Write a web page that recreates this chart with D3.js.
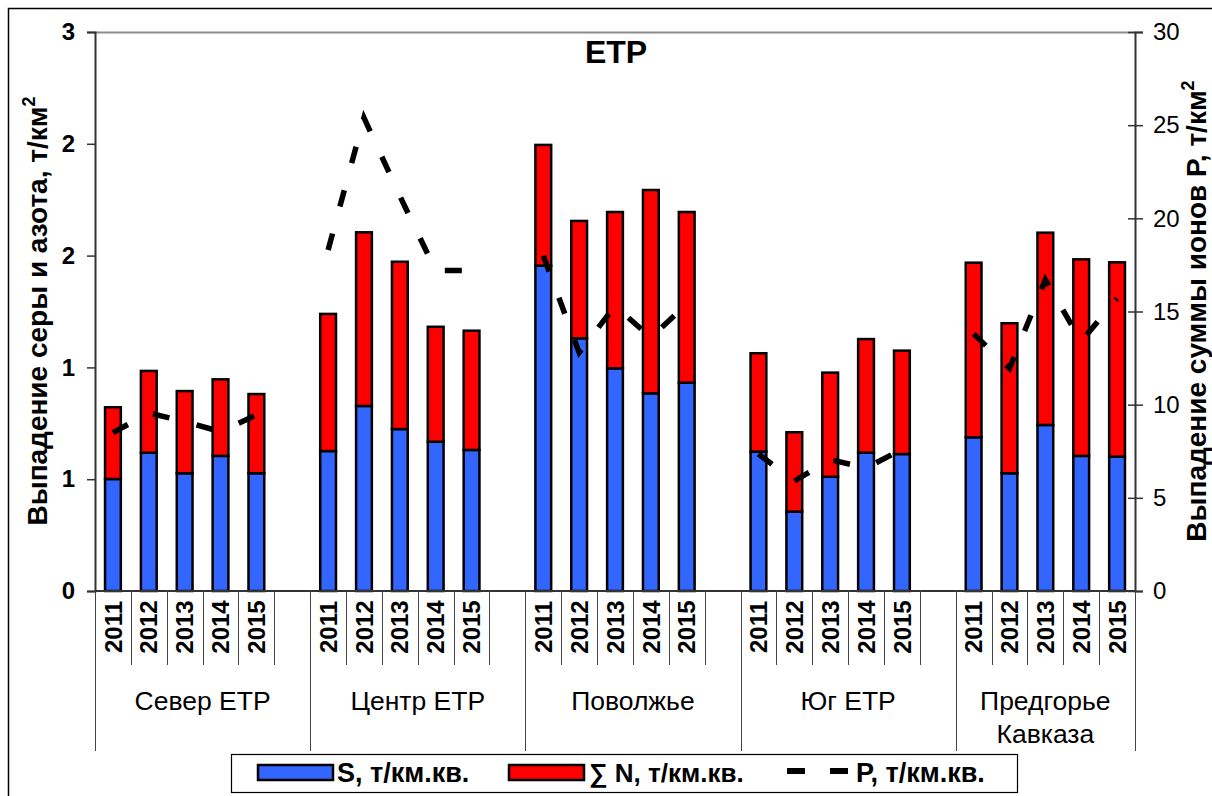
<!DOCTYPE html>
<html><head><meta charset="utf-8">
<script src="https://cdn.jsdelivr.net/npm/d3@7/dist/d3.min.js"></script>
<style>body{margin:0;background:#fff}svg{display:block}text{font-family:'Liberation Sans',Arial,sans-serif;fill:#000}</style>
</head><body><svg id="c" width="1212" height="796"></svg>
<script>
const groups = ["Север ЕТР", "Центр ЕТР", "Поволжье", "Юг ЕТР", "Предгорье\nКавказа"];
const years = ["2011", "2012", "2013", "2014", "2015"];
// S (sulfur) deposition, t/km2 – per group, per year
const sValues = [
  0.601, 0.742, 0.632, 0.725, 0.632,
  0.751, 0.993, 0.869, 0.801, 0.757,
  1.746, 1.356, 1.195, 1.061, 1.118,
  0.748, 0.426, 0.613, 0.742, 0.735,
  0.825, 0.632, 0.891, 0.725, 0.721
];
// Sum N deposition, t/km2
const nValues = [
  0.385, 0.439, 0.441, 0.411, 0.425,
  0.736, 0.932, 0.898, 0.617, 0.640,
  0.648, 0.630, 0.839, 1.091, 0.916,
  0.528, 0.426, 0.559, 0.610, 0.555,
  0.937, 0.805, 1.032, 1.055, 1.043
];
// P (sum of ions), t/km2 – right axis
const pValues = [
  8.5, 9.55, 9.1, 8.55, 9.45,
  18.3, 25.4, 21.2, 17.2, 17.2,
  18.0, 12.8, 15.3, 13.6, 15.4,
  7.35, 5.9, 7.05, 6.6, 7.6,
  13.8, 11.95, 16.7, 13.4, 15.7
];
const leftTicks = [0, 0.6, 1.2, 1.8, 2.4, 3];
const leftTickLabels = ["0", "1", "1", "2", "2", "3"];
const rightTicks = [0, 5, 10, 15, 20, 25, 30];
const seriesNames = ["S, т/км.кв.", "∑ N, т/км.кв.", "P, т/км.кв."];
const titleText = "ЕТР";
const leftTitle = "Выпадение серы и азота, т/км";
const rightTitle = "Выпадение суммы ионов Р, т/км";

const svg = d3.select("#c");
const X0 = 95, X1 = 1135, Y0 = 591, Y1 = 32;

// slots: 5 years per group + a blank slot between groups
const slots = [];
groups.forEach((g, gi) => {
  years.forEach((y, yi) => slots.push({id: gi + "-" + yi, g: gi, y: yi, idx: gi * 5 + yi}));
  if (gi < groups.length - 1) slots.push({id: gi + "-gap", g: gi, blank: true});
});
const x = d3.scaleBand().domain(slots.map(s => s.id)).range([X0, X1]).paddingInner(0).paddingOuter(0);
const yL = d3.scaleLinear().domain([0, 3]).range([Y0, Y1]);
const yR = d3.scaleLinear().domain([0, 30]).range([Y0, Y1]);

// outer chart border (left/top visible)
svg.append("rect").attr("x", 8.5).attr("y", 8.5).attr("width", 1220).attr("height", 800)
  .attr("fill", "none").attr("stroke", "#000").attr("stroke-width", 1.5);

// plot area top border
svg.append("line").attr("x1", X0).attr("x2", X1).attr("y1", Y1 + 0.5).attr("y2", Y1 + 0.5)
  .attr("stroke", "#8c8c8c").attr("stroke-width", 2);

// title
svg.append("text").attr("x", 616).attr("y", 63).attr("text-anchor", "middle")
  .attr("font-size", 32).attr("font-weight", "bold").text(titleText);

// bars
const dataRows = slots.filter(s => !s.blank).map(s => ({
  id: s.id, S: sValues[s.idx], N: nValues[s.idx], P: pValues[s.idx], g: s.g
}));
const bw = x.bandwidth() * 0.44;
const barG = svg.append("g");
dataRows.forEach(d => {
  const cx = x(d.id) + x.bandwidth() / 2;
  barG.append("rect").attr("x", cx - bw / 2).attr("width", bw)
    .attr("y", yL(d.S)).attr("height", yL(0) - yL(d.S))
    .attr("fill", "#3366ff").attr("stroke", "#000").attr("stroke-width", 2.5);
  barG.append("rect").attr("x", cx - bw / 2).attr("width", bw)
    .attr("y", yL(d.S + d.N)).attr("height", yL(d.S) - yL(d.S + d.N))
    .attr("fill", "#ff0000").attr("stroke", "#000").attr("stroke-width", 2.5);
});

// left axis
const axL = svg.append("g").attr("transform", `translate(${X0},0)`)
  .call(d3.axisLeft(yL).tickValues(leftTicks).tickFormat((d, i) => leftTickLabels[i]).tickSize(8).tickPadding(12));
axL.select(".domain").attr("stroke", "#333").attr("stroke-width", 2);
axL.selectAll(".tick line").attr("stroke", "#333").attr("stroke-width", 1.5);
axL.selectAll(".tick text").attr("font-size", 24).attr("font-weight", "bold")
  .attr("font-family", "'Liberation Sans',Arial,sans-serif").attr("fill", "#000");

// right axis
const axR = svg.append("g").attr("transform", `translate(${X1},0)`)
  .call(d3.axisRight(yR).tickValues(rightTicks).tickSize(8).tickPadding(10));
axR.select(".domain").attr("stroke", "#333").attr("stroke-width", 2);
axR.selectAll(".tick line").attr("x1", -7).attr("stroke", "#333").attr("stroke-width", 1.5);
axR.selectAll(".tick text").attr("font-size", 24)
  .attr("font-family", "'Liberation Sans',Arial,sans-serif").attr("fill", "#000");

// bottom axis line
svg.append("line").attr("x1", X0).attr("x2", X1).attr("y1", Y0).attr("y2", Y0)
  .attr("stroke", "#333").attr("stroke-width", 2);

// category separators
const boundaries = slots.map((s, i) => ({xv: x(s.id), long: i % 6 === 0}));
boundaries.push({xv: X1, long: true});
svg.append("g").selectAll("line").data(boundaries).join("line")
  .attr("x1", d => Math.round(d.xv) + 0.5).attr("x2", d => Math.round(d.xv) + 0.5)
  .attr("y1", Y0).attr("y2", d => d.long ? 751 : 665)
  .attr("stroke", "#444").attr("stroke-width", 1);

// year labels
svg.append("g").selectAll("text").data(dataRows).join("text")
  .attr("transform", d => `translate(${x(d.id) + x.bandwidth() / 2},627) rotate(-90)`)
  .attr("text-anchor", "middle").attr("dy", "0.36em")
  .attr("font-size", 24).attr("font-weight", "bold")
  .text(d => years[+d.id.split("-")[1]]);

// group labels
groups.forEach((g, gi) => {
  const first = x(gi + "-0");
  const last = gi < groups.length - 1 ? x(gi + "-gap") + x.bandwidth() : X1;
  const cx = (first + last) / 2;
  const lines = g.split("\n");
  const t = svg.append("text").attr("x", cx).attr("y", 710).attr("text-anchor", "middle").attr("font-size", 26.5);
  lines.forEach((l, li) => t.append("tspan").attr("x", cx).attr("dy", li === 0 ? 0 : 33).text(l));
});

// P line (dashed), one segment per group
const line = d3.line().x(d => x(d.id) + x.bandwidth() / 2).y(d => yR(d.P));
groups.forEach((g, gi) => {
  svg.append("path").datum(dataRows.filter(d => d.g === gi))
    .attr("d", line).attr("fill", "none").attr("stroke", "#000")
    .attr("stroke-width", 5.5).attr("stroke-dasharray", "17,28").attr("stroke-linecap", "butt");
});

// axis titles
const lt = svg.append("text").attr("transform", `translate(47,311) rotate(-90)`)
  .attr("text-anchor", "middle").attr("font-size", 28).attr("font-weight", "bold");
lt.append("tspan").text(leftTitle);
lt.append("tspan").attr("font-size", 18).attr("dy", -12).text("2");
const rt = svg.append("text").attr("transform", `translate(1206,311) rotate(-90)`)
  .attr("text-anchor", "middle").attr("font-size", 28).attr("font-weight", "bold");
rt.append("tspan").text(rightTitle);
rt.append("tspan").attr("font-size", 18).attr("dy", -12).text("2");

// legend
const lg = svg.append("g");
lg.append("rect").attr("x", 231.5).attr("y", 754.5).attr("width", 786).attr("height", 38)
  .attr("fill", "#fff").attr("stroke", "#000").attr("stroke-width", 1.2);
lg.append("rect").attr("x", 258).attr("y", 765).attr("width", 75).attr("height", 15)
  .attr("fill", "#3366ff").attr("stroke", "#000").attr("stroke-width", 2.5);
lg.append("text").attr("x", 337).attr("y", 782).attr("font-size", 27).attr("font-weight", "bold").text(seriesNames[0]);
lg.append("rect").attr("x", 509).attr("y", 765).attr("width", 75).attr("height", 15)
  .attr("fill", "#ff0000").attr("stroke", "#000").attr("stroke-width", 2.5);
lg.append("text").attr("x", 589).attr("y", 782).attr("font-size", 26).attr("font-weight", "bold").text(seriesNames[1]);
lg.append("line").attr("x1", 787).attr("x2", 848).attr("y1", 771).attr("y2", 771)
  .attr("stroke", "#000").attr("stroke-width", 6).attr("stroke-dasharray", "18,25");
lg.append("text").attr("x", 856).attr("y", 782).attr("font-size", 27).attr("font-weight", "bold").text(seriesNames[2]);
</script></body></html>
